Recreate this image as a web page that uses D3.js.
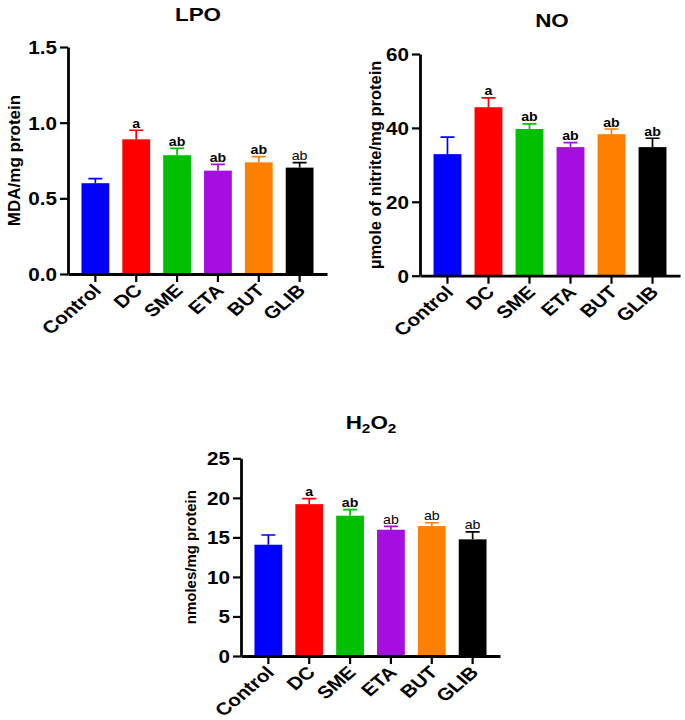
<!DOCTYPE html>
<html>
<head>
<meta charset="utf-8">
<script src="https://cdn.jsdelivr.net/npm/d3@7"></script>
<style>
  html, body { margin: 0; padding: 0; background: #fff; }
  svg { display: block; }
  text { font-family: "Liberation Sans", Arial, sans-serif; font-weight: bold; fill: #000; }
</style>
</head>
<body>
<svg id="chart" width="685" height="720"></svg>
<script>
// ---------- data ----------
const categories = ["Control", "DC", "SME", "ETA", "BUT", "GLIB"];
const barColors = ["#0000ff", "#ff0000", "#00c000", "#a50ee0", "#ff8000", "#000000"];
const sigLabels = ["", "a", "ab", "ab", "ab", "ab"];

const lpoMean = [0.60, 0.89, 0.785, 0.683, 0.738, 0.703];
const lpoErr  = [0.03, 0.06, 0.045, 0.042, 0.037, 0.033];
const lpoTicks = [0, 0.5, 1.0, 1.5];

const noMean = [32.9, 45.6, 39.7, 34.8, 38.3, 34.8];
const noErr  = [4.6, 2.5, 1.4, 1.2, 1.4, 2.4];
const noTicks = [0, 20, 40, 60];

const h2o2Mean = [14.07, 19.2, 17.74, 15.97, 16.43, 14.75];
const h2o2Err  = [1.23, 0.7, 0.76, 0.43, 0.42, 0.95];
const h2o2Ticks = [0, 5, 10, 15, 20, 25];

// ---------- layout / style ----------
const SX = 1.18; // horizontal text stretch seen in the reference
const svg = d3.select("#chart");

const panels = [
  { title: "LPO", mean: lpoMean, err: lpoErr, ticks: lpoTicks, fmt: d3.format(".1f"),
    ylabel: "MDA/mg protein", x0: 68, x1: 327, yTop: 47, yBot: 274,
    titleX: 198, titleY: 21, titleSize: 19, ylabX: 14, ylabSize: 17,
    lightLabels: [false, false, false, false, false, true] },
  { title: "NO", mean: noMean, err: noErr, ticks: noTicks, fmt: d3.format("d"),
    ylabel: "\u00b5mole of nitrite/mg protein", x0: 420, x1: 680, yTop: 54, yBot: 275.7,
    titleX: 552, titleY: 27, titleSize: 19, ylabX: 375, ylabSize: 16.5,
    lightLabels: [false, false, false, false, false, false] },
  { title: "H2O2", mean: h2o2Mean, err: h2o2Err, ticks: h2o2Ticks, fmt: d3.format("d"),
    ylabel: "nmoles/mg protein", x0: 241, x1: 500, yTop: 458.3, yBot: 656,
    titleX: 371, titleY: 429, titleSize: 19, ylabX: 191, ylabSize: 15,
    lightLabels: [false, false, false, true, true, true] }
];

panels.forEach(p => {
  const x = d3.scaleBand().domain(categories).range([p.x0, p.x1])
    .paddingInner(0.32).paddingOuter(0.33);
  const y = d3.scaleLinear().domain([0, d3.max(p.ticks)]).range([p.yBot, p.yTop]);
  const g = svg.append("g");

  const rows = categories.map((c, i) => ({ c, i, m: p.mean[i], e: p.err[i] }));

  // bars
  g.selectAll("rect.bar").data(rows).join("rect")
    .attr("class", "bar")
    .attr("x", d => x(d.c))
    .attr("width", x.bandwidth())
    .attr("y", d => y(d.m))
    .attr("height", d => y(0) - y(d.m))
    .attr("fill", d => barColors[d.i]);

  // error bars (upper only)
  const capW = 14;
  g.selectAll("path.err").data(rows).join("path")
    .attr("class", "err")
    .attr("d", d => {
      const cx = x(d.c) + x.bandwidth() / 2;
      return `M${cx},${y(d.m)}V${y(d.m + d.e)}M${cx - capW / 2},${y(d.m + d.e)}H${cx + capW / 2}`;
    })
    .attr("fill", "none")
    .attr("stroke", d => barColors[d.i])
    .attr("stroke-width", 1.7);

  // significance labels
  g.selectAll("text.sig").data(rows.filter(d => sigLabels[d.i])).join("text")
    .attr("class", "sig")
    .attr("transform", d => `translate(${x(d.c) + x.bandwidth() / 2},${y(d.m + d.e) - 2.5}) scale(${SX},1)`)
    .attr("text-anchor", "middle")
    .style("font-size", "12px")
    .style("font-weight", d => p.lightLabels[d.i] ? "normal" : "bold")
    .text(d => sigLabels[d.i]);

  // y axis
  const ya = g.append("g").attr("transform", `translate(${p.x0},0)`)
    .call(d3.axisLeft(y).tickValues(p.ticks).tickFormat(p.fmt).tickSize(8).tickSizeOuter(0));
  ya.select(".domain").attr("stroke", "#000").attr("stroke-width", 2.8);
  ya.selectAll(".tick line").attr("stroke", "#000").attr("stroke-width", 2.2);
  ya.selectAll(".tick text")
    .attr("x", 0).attr("dy", null)
    .attr("transform", `translate(-11,6.5) scale(${SX},1)`)
    .style("font-size", "17.5px").style("font-family", null).attr("fill", "#000");

  // x axis
  const xa = g.append("g").attr("transform", `translate(0,${p.yBot})`)
    .call(d3.axisBottom(x).tickSize(8).tickSizeOuter(0));
  xa.select(".domain").attr("stroke", "#000").attr("stroke-width", 2.8);
  xa.selectAll(".tick line").attr("stroke", "#000").attr("stroke-width", 2.2);
  xa.selectAll(".tick text")
    .attr("x", 0).attr("y", 0).attr("dy", null)
    .attr("text-anchor", "end")
    .attr("transform", `translate(7,17.5) scale(${SX},1) rotate(-45)`)
    .style("font-size", "17.5px").style("font-family", null).attr("fill", "#000");
  g.selectAll(".tick text").style("font-weight", "bold");

  // title
  const t = g.append("text")
    .attr("transform", `translate(${p.titleX},${p.titleY}) scale(${SX},1)`)
    .attr("text-anchor", "middle")
    .style("font-size", p.titleSize + "px");
  if (p.title === "H2O2") {
    t.append("tspan").text("H");
    t.append("tspan").text("2").attr("dy", 4).style("font-size", "13px");
    t.append("tspan").text("O").attr("dy", -4);
    t.append("tspan").text("2").attr("dy", 4).style("font-size", "13px");
  } else {
    t.text(p.title);
  }

  // y label
  g.append("text")
    .attr("transform", `translate(${p.ylabX},${(p.yTop + p.yBot) / 2}) rotate(-90)`)
    .attr("text-anchor", "middle")
    .attr("dy", "0.35em")
    .style("font-size", p.ylabSize + "px")
    .text(p.ylabel);
});
</script>
</body>
</html>
